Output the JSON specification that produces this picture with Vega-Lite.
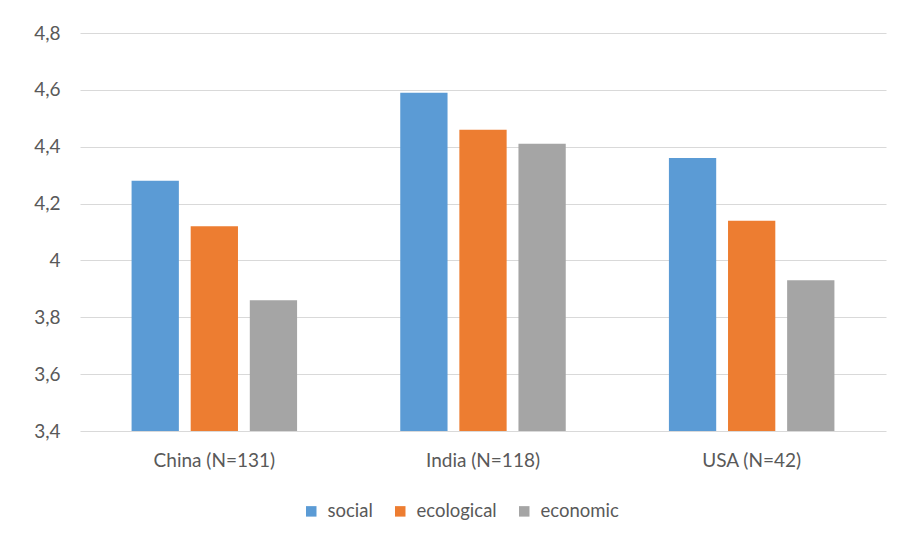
{
  "$schema": "https://vega.github.io/schema/vega-lite/v6.json",
  "width": 806,
  "height": 398,
  "autosize": {"type": "none"},
  "padding": {"left": 80, "top": 33, "right": 26, "bottom": 111},
  "background": "white",
  "data": {"values": [
    {"country": "China (N=131)", "dim": "social", "value": 4.28},
    {"country": "China (N=131)", "dim": "ecological", "value": 4.12},
    {"country": "China (N=131)", "dim": "economic", "value": 3.86},
    {"country": "India (N=118)", "dim": "social", "value": 4.59},
    {"country": "India (N=118)", "dim": "ecological", "value": 4.46},
    {"country": "India (N=118)", "dim": "economic", "value": 4.41},
    {"country": "USA (N=42)", "dim": "social", "value": 4.36},
    {"country": "USA (N=42)", "dim": "ecological", "value": 4.14},
    {"country": "USA (N=42)", "dim": "economic", "value": 3.93}
  ]},
  "mark": {"type": "bar", "clip": true},
  "encoding": {
    "x": {
      "field": "country", "type": "nominal", "sort": null,
      "scale": {"paddingInner": 0.34, "paddingOuter": 0.17},
      "axis": {"title": null, "labelAngle": 0, "ticks": false, "domain": false, "labelPadding": 20, "labelFontSize": 19}
    },
    "xOffset": {
      "field": "dim", "type": "nominal", "sort": ["social", "ecological", "economic"],
      "scale": {"paddingInner": 0.2, "paddingOuter": 0.1}
    },
    "y": {
      "field": "value", "type": "quantitative",
      "scale": {"domain": [3.4, 4.8], "zero": false, "nice": false},
      "axis": {"title": null, "values": [3.4, 3.6, 3.8, 4.0, 4.2, 4.4, 4.6, 4.8], "labelOverlap": false, "format": ".1~f", "ticks": false, "domain": false, "labelPadding": 20, "labelFontSize": 19, "grid": true}
    },
    "color": {
      "field": "dim", "type": "nominal", "sort": ["social", "ecological", "economic"],
      "scale": {"domain": ["social", "ecological", "economic"], "range": ["#5b9bd5", "#ed7d31", "#a5a5a5"]},
      "legend": {
        "title": null, "orient": "none", "direction": "horizontal",
        "legendX": 222, "legendY": 469, "symbolType": "square", "symbolSize": 110,
        "labelFontSize": 18.5, "columnPadding": 18, "labelOffset": 7, "padding": 0,
        "symbolStrokeWidth": 0
      }
    }
  },
  "config": {
    "font": "Lato",
    "locale": {"number": {"decimal": ",", "thousands": ".", "grouping": [3], "currency": ["", " €"]}},
    "view": {"stroke": null},
    "axis": {"labelColor": "#595959", "labelFont": "Lato", "gridColor": "#d9d9d9", "gridWidth": 1},
    "legend": {"labelColor": "#595959", "labelFont": "Lato"}
  }
}
